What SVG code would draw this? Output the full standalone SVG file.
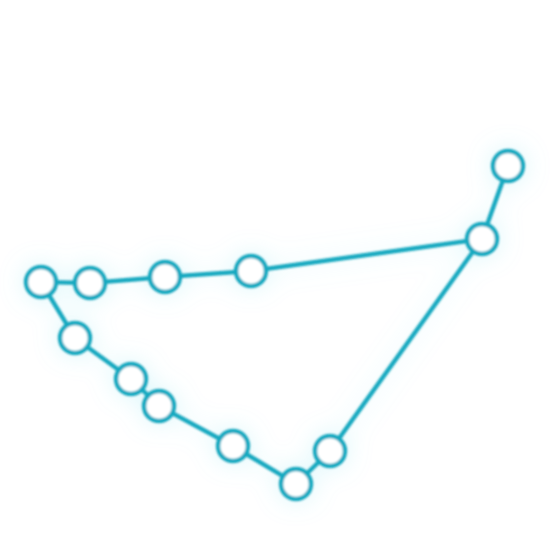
<svg xmlns="http://www.w3.org/2000/svg" width="550" height="550" viewBox="0 0 550 550">
<defs>
<filter id="glow" x="-20%" y="-20%" width="140%" height="140%">
<feGaussianBlur in="SourceAlpha" stdDeviation="12" result="b"/>
<feFlood flood-color="#7fe3f0" flood-opacity="0.3"/>
<feComposite in2="b" operator="in" result="g"/>
<feGaussianBlur in="SourceGraphic" stdDeviation="1" result="s"/>
<feMerge><feMergeNode in="g"/><feMergeNode in="s"/></feMerge>
</filter>
</defs>
<style>
.edge{stroke:#15a9c0;stroke-width:4.5;fill:none;stroke-linecap:round}
.star{fill:#ffffff;stroke:#15a9c0;stroke-width:4.5}
</style>
<rect width="550" height="550" fill="#ffffff"/>
<g filter="url(#glow)">
<g id="connectors">
<polyline class="edge" points="508,166 482,239 251,271 165,277 90,283 41,282 75,338 131,379 159,406 233,446 296,484 330,451 482,239"/>
</g>
<g id="star-1"><circle class="star" cx="41" cy="282" r="15"/></g>
<g id="star-2"><circle class="star" cx="90" cy="283" r="15"/></g>
<g id="star-3"><circle class="star" cx="165" cy="277" r="15"/></g>
<g id="star-4"><circle class="star" cx="251" cy="271" r="15"/></g>
<g id="star-5"><circle class="star" cx="482" cy="239" r="15"/></g>
<g id="star-6"><circle class="star" cx="508" cy="166" r="15"/></g>
<g id="star-7"><circle class="star" cx="75" cy="338" r="15"/></g>
<g id="star-8"><circle class="star" cx="131" cy="379" r="15"/></g>
<g id="star-9"><circle class="star" cx="159" cy="406" r="15"/></g>
<g id="star-10"><circle class="star" cx="233" cy="446" r="15"/></g>
<g id="star-11"><circle class="star" cx="296" cy="484" r="15"/></g>
<g id="star-12"><circle class="star" cx="330" cy="451" r="15"/></g>
</g>
</svg>
